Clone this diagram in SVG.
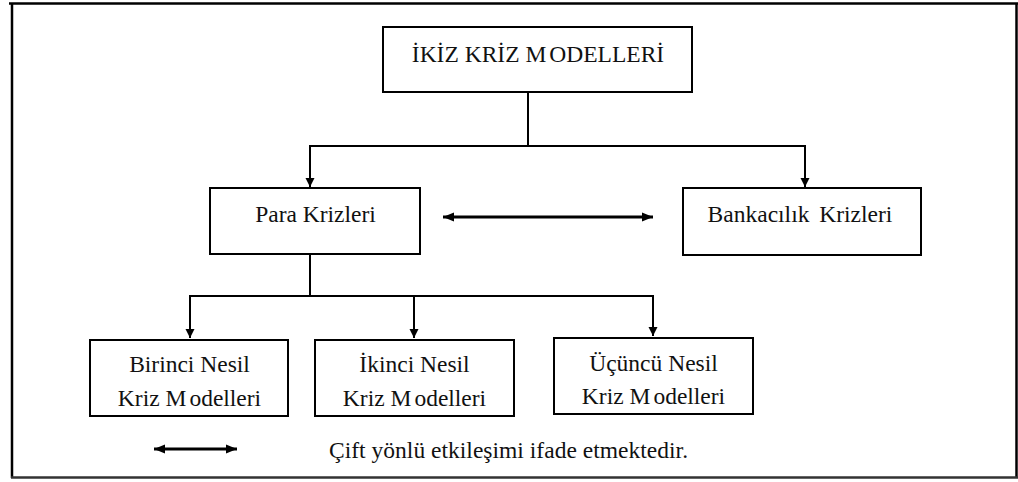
<svg xmlns="http://www.w3.org/2000/svg" width="1018" height="482" viewBox="0 0 1018 482" font-family="Liberation Serif, DejaVu Serif, serif">
<style>
.box{fill:#fff;stroke:#000;stroke-width:2}
.lbl{font-size:23.5px;fill:#111;text-anchor:middle}
.con{fill:none;stroke:#000;stroke-width:2}
.dbl{fill:none;stroke:#000;stroke-width:3}
</style>
<defs>
<marker id="ah" markerWidth="10" markerHeight="10" refX="9" refY="5" orient="auto" markerUnits="userSpaceOnUse">
<path d="M0,0.5 L9,5 L0,9.5 Z" fill="#000"/>
</marker>
<marker id="ah2" markerWidth="12" markerHeight="10" refX="11" refY="5" orient="auto-start-reverse" markerUnits="userSpaceOnUse">
<path d="M0,0.5 L11,5 L0,9.5 Z" fill="#000"/>
</marker>
</defs>
<rect x="0" y="0" width="1018" height="482" fill="#fff"/>
<g id="frame" fill="none" stroke="#000" stroke-width="2.5">
<path d="M9,3.5 H1018"/>
<path d="M12,4 V478"/>
<path d="M1016.5,3 V478"/>
<path d="M11,477.5 H1018" stroke="#333"/>
</g>
<g id="connectors">
<path class="con" d="M528,92 V146"/>
<path class="con" d="M310,146 H805"/>
<path class="con" d="M310,145 V187" marker-end="url(#ah)"/>
<path class="con" d="M805,145 V187" marker-end="url(#ah)"/>
<path class="con" d="M310,254 V296"/>
<path class="con" d="M190,296 H653"/>
<path class="con" d="M190,295 V338" marker-end="url(#ah)"/>
<path class="con" d="M414,295 V338" marker-end="url(#ah)"/>
<path class="con" d="M653,295 V336" marker-end="url(#ah)"/>
<path class="dbl" d="M443,217 H653" marker-start="url(#ah2)" marker-end="url(#ah2)"/>
</g>
<g id="n-ikiz">
<rect class="box" x="383" y="27" width="309" height="65"/>
<text class="lbl" x="538" y="62" font-size="24" font-family="Liberation Serif, serif">İKİZ KRİZ M<tspan dx="3">ODELLERİ</tspan></text>
</g>
<g id="n-para">
<rect class="box" x="210" y="188" width="210" height="66"/>
<text class="lbl" x="315.5" y="222" font-family="Liberation Serif, serif">Para Krizleri</text>
</g>
<g id="n-banka">
<rect class="box" x="683" y="188" width="238" height="67"/>
<text class="lbl" x="800" y="222" font-family="Liberation Serif, serif">Bankacılık <tspan dx="4">Krizleri</tspan></text>
</g>
<g id="n-birinci">
<rect class="box" x="90" y="340" width="198" height="76"/>
<text class="lbl" x="189.5" y="372" font-family="Liberation Serif, serif">Birinci Nesil</text>
<text class="lbl" x="189.5" y="406" font-family="Liberation Serif, serif">Kriz M<tspan dx="3">odelleri</tspan></text>
</g>
<g id="n-ikinci">
<rect class="box" x="315" y="340" width="199" height="76"/>
<text class="lbl" x="414.5" y="372" font-family="Liberation Serif, serif">İkinci Nesil</text>
<text class="lbl" x="414.5" y="406" font-family="Liberation Serif, serif">Kriz M<tspan dx="3">odelleri</tspan></text>
</g>
<g id="n-ucuncu">
<rect class="box" x="554" y="338" width="199" height="76"/>
<text class="lbl" x="653.5" y="371" font-family="Liberation Serif, serif">Üçüncü Nesil</text>
<text class="lbl" x="653.5" y="404" font-family="Liberation Serif, serif">Kriz M<tspan dx="3">odelleri</tspan></text>
</g>
<g id="legend">
<path class="dbl" d="M154,449 H237" marker-start="url(#ah2)" marker-end="url(#ah2)"/>
<text class="lbl" x="329" y="458" style="text-anchor:start" font-family="Liberation Serif, serif" textLength="359" lengthAdjust="spacing">Çift yönlü etkileşimi ifade etmektedir.</text>
</g>
</svg>
